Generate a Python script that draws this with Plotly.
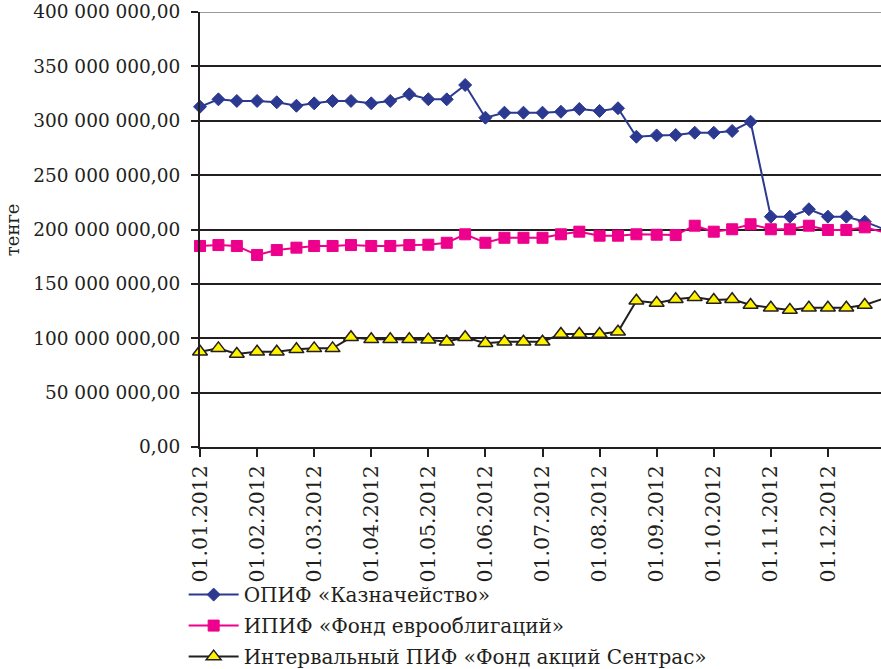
import calendar
import plotly.graph_objects as go

# Observation dates (1st, 11th and 21st of each month) and fund net assets, tenge
dates = [
    "01.01.2012", "11.01.2012", "21.01.2012",
    "01.02.2012", "11.02.2012", "21.02.2012",
    "01.03.2012", "11.03.2012", "21.03.2012",
    "01.04.2012", "11.04.2012", "21.04.2012",
    "01.05.2012", "11.05.2012", "21.05.2012",
    "01.06.2012", "11.06.2012", "21.06.2012",
    "01.07.2012", "11.07.2012", "21.07.2012",
    "01.08.2012", "11.08.2012", "21.08.2012",
    "01.09.2012", "11.09.2012", "21.09.2012",
    "01.10.2012", "11.10.2012", "21.10.2012",
    "01.11.2012", "11.11.2012", "21.11.2012",
    "01.12.2012", "11.12.2012", "21.12.2012",
    "01.01.2013",
]

kaznacheystvo = [
    312.9e6, 319.7e6, 318.2e6,
    318.2e6, 317.0e6, 313.8e6,
    316.0e6, 318.2e6, 318.2e6,
    316.0e6, 318.2e6, 324.3e6,
    319.8e6, 319.7e6, 332.9e6,
    302.8e6, 307.4e6, 307.4e6,
    307.4e6, 308.3e6, 310.8e6,
    309.0e6, 311.5e6, 285.3e6,
    286.5e6, 286.9e6, 289.0e6,
    289.0e6, 290.6e6, 299.1e6,
    211.8e6, 211.8e6, 218.6e6,
    211.8e6, 211.8e6, 207.2e6,
    200.0e6,
]

evroobligatsii = [
    184.8e6, 185.7e6, 184.8e6,
    176.6e6, 181.1e6, 183.3e6,
    184.8e6, 184.8e6, 185.7e6,
    184.8e6, 184.8e6, 185.7e6,
    186.0e6, 187.8e6, 195.6e6,
    187.8e6, 192.4e6, 192.4e6,
    192.4e6, 195.6e6, 198.0e6,
    194.3e6, 194.3e6, 195.6e6,
    195.2e6, 194.9e6, 203.5e6,
    198.0e6, 200.2e6, 204.8e6,
    200.2e6, 200.2e6, 203.5e6,
    199.6e6, 199.6e6, 202.0e6,
    197.3e6,
]

sentras = [
    87.6e6, 90.7e6, 85.5e6,
    87.6e6, 87.6e6, 89.8e6,
    90.7e6, 90.7e6, 100.9e6,
    99.0e6, 99.0e6, 99.0e6,
    98.7e6, 96.8e6, 100.9e6,
    95.4e6, 96.8e6, 96.8e6,
    96.8e6, 103.9e6, 103.9e6,
    103.9e6, 106.0e6, 134.5e6,
    132.4e6, 135.8e6, 137.6e6,
    135.2e6, 135.8e6, 130.6e6,
    128.1e6, 126.0e6, 128.1e6,
    128.1e6, 128.1e6, 130.6e6,
    136.8e6,
]

series_names = [
    "ОПИФ «Казначейство»",
    "ИПИФ «Фонд еврооблигаций»",
    "Интервальный ПИФ «Фонд акций Сентрас»",
]

month_ticks = [
    "01.01.2012", "01.02.2012", "01.03.2012", "01.04.2012",
    "01.05.2012", "01.06.2012", "01.07.2012", "01.08.2012",
    "01.09.2012", "01.10.2012", "01.11.2012", "01.12.2012",
]

y_ticks = [0, 50e6, 100e6, 150e6, 200e6, 250e6, 300e6, 350e6, 400e6]


def month_pos(s):
    """Position on a month-based axis: every month gets equal width."""
    d, m, y = map(int, s.split("."))
    return (y - 2012) * 12 + (m - 1) + (d - 1) / calendar.monthrange(y, m)[1]


def money(v):
    return f"{v:,.2f}".replace(",", " ").replace(".", ",")


x = [month_pos(s) for s in dates]
FONT = "DejaVu Serif"
INK = "#231f20"

fig = go.Figure()
fig.add_trace(go.Scatter(
    x=x, y=kaznacheystvo, name=series_names[0], mode="lines+markers",
    legendgroup="a",
    line=dict(color="#2b3990", width=2),
    marker=dict(symbol="diamond", size=10, color="#2b3990",
                line=dict(color="#2b3990", width=1)),
    cliponaxis=False,
))
fig.add_trace(go.Scatter(
    x=x, y=evroobligatsii, name=series_names[1], mode="lines+markers",
    legendgroup="b",
    line=dict(color="#ec008c", width=2),
    marker=dict(symbol="square", size=11, color="#ec008c",
                line=dict(color="#ec008c", width=1)),
    cliponaxis=False,
))
fig.add_trace(go.Scatter(
    x=x, y=sentras, name=series_names[2], mode="lines+markers",
    legendgroup="c",
    line=dict(color=INK, width=2),
    marker=dict(symbol="triangle-up", size=13, color="#fff200",
                line=dict(color=INK, width=1.5)),
    cliponaxis=False,
))

fig.update_layout(
    width=881, height=669,
    margin=dict(l=200, r=0, t=12, b=222, autoexpand=False),
    paper_bgcolor="white", plot_bgcolor="white",
    font=dict(family=FONT, color=INK),
    showlegend=True,
    legend=dict(
        x=-0.024, xanchor="left", y=-0.2945, yanchor="top",
        orientation="v", font=dict(family=FONT, size=20, color=INK),
        itemwidth=50, bgcolor="rgba(0,0,0,0)",
        traceorder="grouped", tracegroupgap=2,
    ),
    xaxis=dict(
        range=[0, 11.93], automargin=False,
        tickmode="array", tickvals=[month_pos(s) for s in month_ticks],
        ticktext=month_ticks, tickangle=-90,
        tickfont=dict(family=FONT, size=20.5, color=INK),
        ticks="outside", ticklen=8, tickwidth=2, tickcolor=INK,
        showline=True, linecolor=INK, linewidth=2,
        showgrid=False, zeroline=False,
    ),
    yaxis=dict(
        range=[0, 400e6], automargin=False,
        tickmode="array", tickvals=y_ticks,
        ticktext=[money(v) for v in y_ticks],
        tickfont=dict(family=FONT, size=18.5, color=INK),
        ticks="outside", ticklen=7, tickwidth=2, tickcolor=INK,
        ticklabelstandoff=7,
        showline=True, linecolor=INK, linewidth=2,
        showgrid=True, gridcolor=INK, gridwidth=2,
        zeroline=False,
    ),
    shapes=[dict(
        type="line", xref="paper", yref="y", x0=0, x1=1,
        y0=400e6, y1=400e6, layer="between",
        line=dict(color="#9a9a9a", width=2),
    )],
    annotations=[dict(
        text="тенге", textangle=-90, showarrow=False,
        xref="paper", yref="paper", x=-0.275, y=0.5,
        xanchor="center", yanchor="middle",
        font=dict(family=FONT, size=18, color=INK),
    )],
)

fig.write_html("out.html")
